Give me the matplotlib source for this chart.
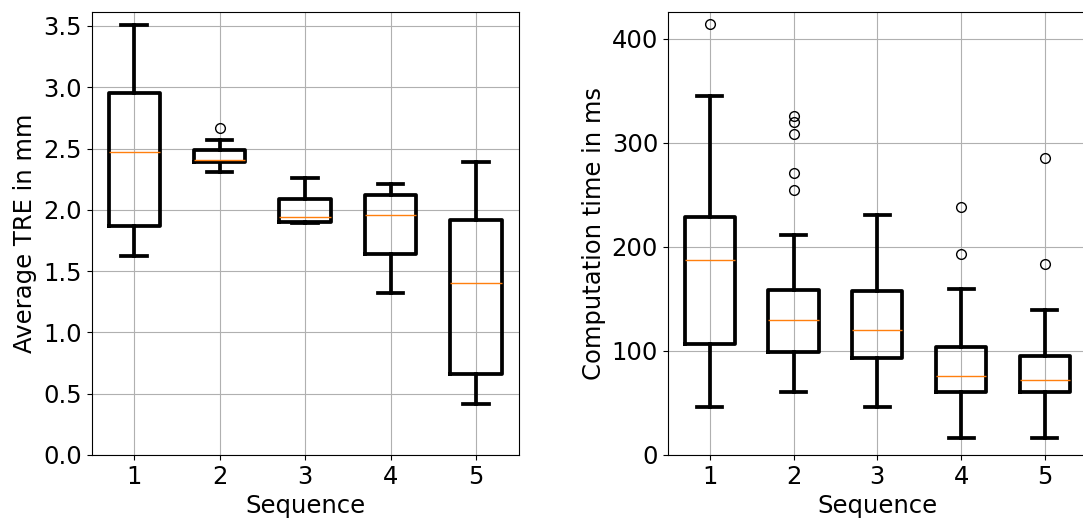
import matplotlib
matplotlib.use("Agg")
import matplotlib.pyplot as plt
from matplotlib.ticker import MultipleLocator

# Sequence numbers on the x axis
sequences = [1, 2, 3, 4, 5]

# Average TRE (mm) box statistics per sequence
tre_whislo = [1.62, 2.31, 1.89, 1.32, 0.42]
tre_q1 = [1.87, 2.39, 1.90, 1.64, 0.66]
tre_med = [2.47, 2.41, 1.94, 1.96, 1.40]
tre_q3 = [2.95, 2.49, 2.09, 2.12, 1.92]
tre_whishi = [3.51, 2.57, 2.26, 2.21, 2.39]
tre_fliers = [[], [2.67], [], [], []]

# Computation time (ms) box statistics per sequence
time_whislo = [46, 61, 46, 16, 16]
time_q1 = [107, 99, 93, 61, 61]
time_med = [187, 130, 120, 76, 72]
time_q3 = [229, 159, 158, 104, 95]
time_whishi = [345, 211, 231, 160, 139]
time_fliers = [[414], [326, 320, 308, 271, 255], [], [238, 193], [285, 184]]


def make_stats(whislo, q1, med, q3, whishi, fliers):
    stats = []
    for i in range(len(med)):
        stats.append({
            'whislo': whislo[i], 'q1': q1[i], 'med': med[i],
            'q3': q3[i], 'whishi': whishi[i], 'fliers': fliers[i],
        })
    return stats


plt.rcParams['font.size'] = 17.5

fig = plt.figure(figsize=(10.83, 5.23), dpi=100)
W, H = 1083.0, 523.0
ax1 = fig.add_axes([91.5 / W, 68 / H, (518.7 - 91.5) / W, (455 - 11.7) / H])
ax2 = fig.add_axes([667.8 / W, 68 / H, (1086.8 - 667.8) / W, (455 - 11.7) / H])

lw = 2.7
box_kw = dict(
    widths=0.6,
    boxprops=dict(linewidth=lw, color='black'),
    whiskerprops=dict(linewidth=lw, color='black'),
    capprops=dict(linewidth=lw, color='black'),
    medianprops=dict(linewidth=1.0, color='C1'),
    flierprops=dict(marker='o', markerfacecolor='none', markeredgecolor='black',
                    markersize=7),
)

ax1.bxp(make_stats(tre_whislo, tre_q1, tre_med, tre_q3, tre_whishi, tre_fliers),
        positions=sequences, **box_kw)
ax1.set_ylim(0, 3.616)
ax1.set_xlim(0.5, 5.5)
ax1.yaxis.set_major_locator(MultipleLocator(0.5))
ax1.set_xticks(sequences)
ax1.set_xticklabels([str(s) for s in sequences])
ax1.set_xlabel("Sequence")
ax1.set_ylabel("Average TRE in mm")
ax1.grid(True)

ax2.bxp(make_stats(time_whislo, time_q1, time_med, time_q3, time_whishi, time_fliers),
        positions=sequences, **box_kw)
ax2.set_ylim(0, 426)
ax2.set_xlim(0.5, 5.5)
ax2.yaxis.set_major_locator(MultipleLocator(100))
ax2.set_xticks(sequences)
ax2.set_xticklabels([str(s) for s in sequences])
ax2.set_xlabel("Sequence")
ax2.set_ylabel("Computation time in ms")
ax2.grid(True)

fig.savefig("out.png", dpi=100)
